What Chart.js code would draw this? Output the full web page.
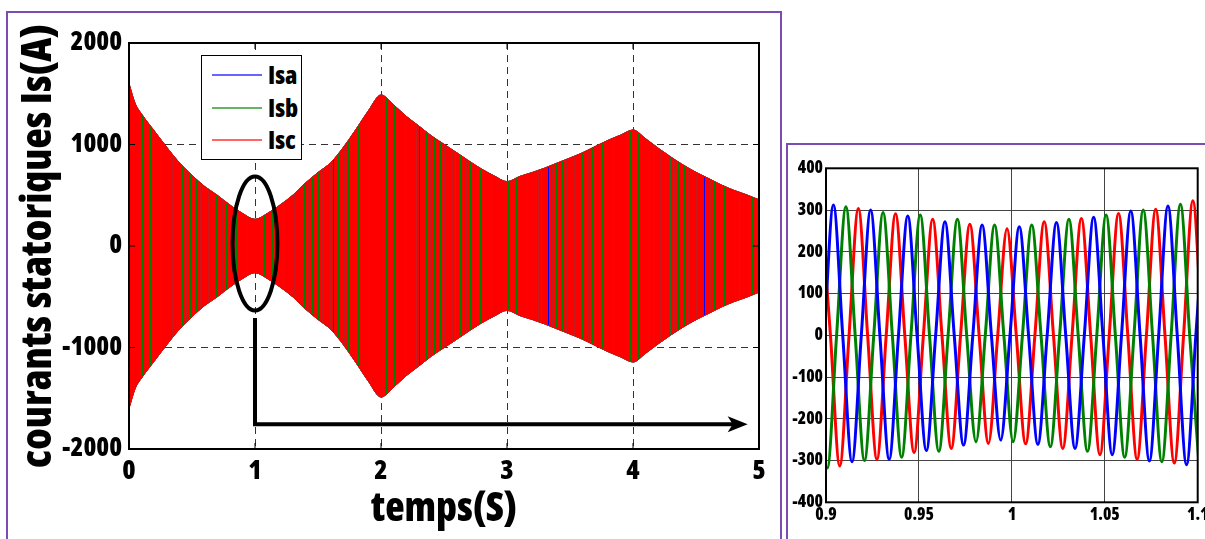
<!DOCTYPE html>
<html>
<head>
<meta charset="utf-8">
<title>Courants statoriques</title>
<script src="https://cdn.jsdelivr.net/npm/chart.js@4.4.1/dist/chart.umd.min.js"></script>
<style>
  body { margin: 0; width: 1205px; height: 539px; overflow: hidden; background: #fff; position: relative; }
  .frame { position: absolute; border: 2px solid #7a4cb4; }
  #mainFrame { left: 6px; top: 11px; width: 772px; height: 560px; }
  #zoomFrame { left: 786px; top: 143px; width: 440px; height: 420px; }
  canvas { position: absolute; }
  #mainChart { left: 9px; top: 14px; }
  #zoomChart { left: 789px; top: 146px; }
  #legend { position: absolute; left: 201px; top: 55px; width: 99px; height: 103px;
            border: 1.5px solid #000; background: #fff; }
  #legend .row { position: absolute; left: 10px; height: 30px; width: 90px; }
  #legend .swatch { position: absolute; left: 0; top: 14px; width: 50px; height: 2px; opacity: 0.6; }
  #legend .name { position: absolute; left: 56px; top: -1px; line-height: 30px; color: #000;
                  font-family: 'Open Sans', sans-serif; font-weight: 800; font-stretch: condensed; font-size: 25px; }
</style>
</head>
<body>
<div class="frame" id="mainFrame"></div>
<div class="frame" id="zoomFrame"></div>
<canvas id="mainChart" width="771" height="525"></canvas>
<canvas id="zoomChart" width="430" height="393"></canvas>
<div id="legend"></div>
<script>
const FONT = "'Open Sans', 'Roboto', sans-serif";
const HEAVY = '800 condensed';   // goes into the canvas font shorthand before the size

const seriesNames = ['Isa', 'Isb', 'Isc'];
const seriesColors = ['#0000ff', '#008000', '#ff0000'];

// envelope of the three stator currents over the whole run (s, A)
const envTime = [0, 0.05, 0.1, 0.2, 0.3, 0.4, 0.5, 0.6, 0.7, 0.8, 0.9,
  1.0, 1.1, 1.2, 1.3, 1.4, 1.5, 1.6, 1.7, 1.8, 1.9,
  2.0, 2.1, 2.2, 2.3, 2.4, 2.5, 2.6, 2.7, 2.8, 2.9,
  3.0, 3.1, 3.2, 3.3, 3.4, 3.5, 3.6, 3.7, 3.8, 3.9,
  4.0, 4.1, 4.2, 4.3, 4.4, 4.5, 4.6, 4.7, 4.8, 4.9, 5.0];
const envUpper = [1600, 1400, 1300, 1135, 972, 820, 697, 587, 501, 405, 322,
  263, 322, 405, 501, 620, 724, 820, 970, 1147, 1333,
  1488, 1391, 1278, 1183, 1085, 1002, 920, 836, 757, 690,
  634, 685, 724, 768, 818, 867, 919, 980, 1040, 1092,
  1143, 1057, 964, 877, 797, 726, 665, 602, 549, 505, 455];
const envLower = [-1600, -1400, -1300, -1135, -972, -820, -697, -587, -501, -405, -322,
  -263, -322, -405, -501, -620, -724, -820, -970, -1147, -1333,
  -1488, -1391, -1278, -1183, -1085, -1002, -920, -836, -757, -690,
  -634, -685, -724, -768, -818, -867, -919, -980, -1040, -1092,
  -1143, -1057, -964, -877, -797, -726, -665, -602, -549, -505, -455];
const mainXTicks = [0, 1, 2, 3, 4, 5];
const mainYTicks = [-2000, -1000, 0, 1000, 2000];

// zoom 0.9 .. 1.1 s : samples every quarter period (5 ms), first sample time per phase
const zoomStep = 0.005;
const zoomStart = [0.894, 0.8907, 0.8974];
const isaZoom = [-310, 0, 312, 0, -303, 0, 300, 0, -297, 0, 286, 0, -276, 0, 272, 0, -263, 0, 264, 0, -251, 0,
  260, 0, -261, 0, 270, 0, -271, 0, 283, 0, -286, 0, 298, 0, -301, 0, 310, 0, -310, 0, 316];
const isbZoom = [315, 0, -318, 0, 308, 0, -300, 0, 294, 0, -292, 0, 288, 0, -278, 0, 278, 0, -255, 0, 264, 0,
  -255, 0, 264, 0, -267, 0, 278, 0, -278, 0, 288, 0, -292, 0, 300, 0, -303, 0, 314, 0, -310];
const iscZoom = [300, 0, -313, 0, 304, 0, -297, 0, 291, 0, -281, 0, 278, 0, -271, 0, 266, 0, -259, 0, 255, 0,
  -260, 0, 272, 0, -271, 0, 280, 0, -286, 0, 292, 0, -297, 0, 302, 0, -306, 0, 322, 0, -310];
const zoomXTicks = [0.9, 0.95, 1, 1.05, 1.1];
const zoomYTicks = [-400, -300, -200, -100, 0, 100, 200, 300, 400];

// annotation: circled region around t = 1 s and the arrow to the zoom
const zoomMark = { t: 1.0, i: 25, rt: 0.178, ri: 660 };
const arrowPath = [[1.0, -710], [1.0, -1755], [4.91, -1755]];

// legend (html)
const legend = document.getElementById('legend');
seriesNames.forEach((name, i) => {
  const row = document.createElement('div');
  row.className = 'row';
  row.style.top = (4 + i * 32.5) + 'px';
  row.innerHTML = '<div class="swatch" style="background:' + seriesColors[i] + '"></div><div class="name">' + name + '</div>';
  legend.appendChild(row);
});

const mainCtx = document.getElementById('mainChart').getContext('2d');

// vertical streak textures so the dense oscillations read like the original
// one char per pixel column: c = colour, d = darker shade, . = see-through
function stripes(color, dark, cols) {
  const c = document.createElement('canvas');
  c.width = cols.length; c.height = 1;
  const g = c.getContext('2d');
  for (let x = 0; x < cols.length; x++) {
    if (cols[x] === '.') continue;
    g.fillStyle = cols[x] === 'd' ? dark : color;
    g.fillRect(x, 0, 1, 1);
  }
  return mainCtx.createPattern(c, 'repeat');
}
const bandFills = [
  seriesColors[0],
  stripes(seriesColors[1], '#2a6a2a', 'ccccccc.ccccccccdcccccc.cccccccccccc.cccccd'),
  stripes(seriesColors[2], '#c41c1c', 'cccc.cccdcc.ccccdcc.cccc.cccccdccc.ccccccdcc.cccccc.cccdccc.c')
];

const pts = (xs, ys) => xs.map((x, k) => ({ x: x, y: ys[k] }));

const mainDatasets = [];
seriesNames.forEach((name, i) => {
  mainDatasets.push({
    label: name, data: pts(envTime, envUpper), borderColor: seriesColors[i], borderWidth: 1,
    backgroundColor: bandFills[i], fill: '+1', pointRadius: 0, cubicInterpolationMode: 'monotone', order: 3 - i
  });
  mainDatasets.push({
    label: name, data: pts(envTime, envLower), borderColor: seriesColors[i], borderWidth: 1,
    fill: false, pointRadius: 0, cubicInterpolationMode: 'monotone', order: 3 - i
  });
});

const boxFrame = {
  id: 'boxFrame',
  afterDraw(chart, args, opts) {
    const { ctx, chartArea: a, scales } = chart;
    ctx.save();
    ctx.strokeStyle = '#000';
    ctx.lineWidth = opts.width || 2;
    ctx.strokeRect(a.left, a.top, a.right - a.left, a.bottom - a.top);
    const tl = opts.tick || 0;
    if (tl) {
      ctx.lineWidth = 1;
      ctx.beginPath();
      scales.x.ticks.forEach(t => {
        const px = scales.x.getPixelForValue(t.value);
        ctx.moveTo(px, a.bottom); ctx.lineTo(px, a.bottom - tl);
        ctx.moveTo(px, a.top); ctx.lineTo(px, a.top + tl);
      });
      scales.y.ticks.forEach(t => {
        const py = scales.y.getPixelForValue(t.value);
        ctx.moveTo(a.left, py); ctx.lineTo(a.left + tl, py);
        ctx.moveTo(a.right, py); ctx.lineTo(a.right - tl, py);
      });
      ctx.stroke();
    }
    ctx.restore();
  }
};

const zoomCallout = {
  id: 'zoomCallout',
  afterDatasetsDraw(chart) {
    const { ctx, scales: { x, y } } = chart;
    ctx.save();
    ctx.strokeStyle = '#000';
    ctx.fillStyle = '#000';
    ctx.lineWidth = 4;
    const cx = x.getPixelForValue(zoomMark.t), cy = y.getPixelForValue(zoomMark.i);
    const rx = x.getPixelForValue(zoomMark.t + zoomMark.rt) - cx;
    const ry = cy - y.getPixelForValue(zoomMark.i + zoomMark.ri);
    ctx.beginPath();
    ctx.ellipse(cx, cy, rx, ry, 0, 0, Math.PI * 2);
    ctx.stroke();
    const p = arrowPath.map(q => [x.getPixelForValue(q[0]), y.getPixelForValue(q[1])]);
    const tip = p[p.length - 1];
    ctx.beginPath();
    ctx.moveTo(p[0][0], p[0][1]);
    for (let k = 1; k < p.length - 1; k++) ctx.lineTo(p[k][0], p[k][1]);
    ctx.lineTo(tip[0] - 12, tip[1]);
    ctx.stroke();
    ctx.beginPath();
    ctx.moveTo(tip[0], tip[1]);
    ctx.lineTo(tip[0] - 20, tip[1] - 8);
    ctx.lineTo(tip[0] - 15, tip[1]);
    ctx.lineTo(tip[0] - 20, tip[1] + 8);
    ctx.closePath();
    ctx.fill();
    ctx.restore();
  }
};

new Chart(mainCtx, {
  type: 'line',
  data: { datasets: mainDatasets },
  plugins: [zoomCallout, boxFrame],
  options: {
    responsive: false,
    animation: false,
    devicePixelRatio: 1,
    layout: { padding: { top: 29, right: 21, left: 0, bottom: 0 } },
    plugins: { legend: { display: false }, tooltip: { enabled: false }, boxFrame: { width: 2, tick: 6 } },
    scales: {
      x: {
        type: 'linear', min: 0, max: 5,
        afterBuildTicks: s => { s.ticks = mainXTicks.map(v => ({ value: v })); },
        afterFit: s => { s.height = 90; },
        grid: { color: '#333', lineWidth: 1, drawTicks: false },
        border: { display: false, dash: [7, 5] },
        ticks: { color: '#000', padding: 6, maxRotation: 0, callback: v => String(v),
                 font: { family: FONT, size: 27, weight: HEAVY } },
        title: { display: true, text: 'temps(S)', color: '#000', padding: { top: 0, bottom: 5 },
                 font: { family: FONT, size: 40, weight: HEAVY } }
      },
      y: {
        type: 'linear', min: -2000, max: 2000,
        afterBuildTicks: s => { s.ticks = mainYTicks.map(v => ({ value: v })); },
        afterFit: s => { s.width = 120; },
        grid: { color: '#333', lineWidth: 1, drawTicks: false },
        border: { display: false, dash: [7, 5] },
        ticks: { color: '#000', padding: 7, callback: v => String(v),
                 font: { family: FONT, size: 26, weight: HEAVY } },
        title: { display: true, text: 'courants statoriques Is(A)', color: '#000', padding: { top: 5, bottom: 0 },
                 font: { family: FONT, size: 42, weight: HEAVY } }
      }
    }
  }
});

const zoomSeries = [isaZoom, isbZoom, iscZoom];
new Chart(document.getElementById('zoomChart'), {
  type: 'line',
  data: {
    datasets: zoomSeries.map((vals, i) => ({
      label: seriesNames[i],
      data: vals.map((v, k) => ({ x: zoomStart[i] + k * zoomStep, y: v })),
      borderColor: seriesColors[i], borderWidth: 3, pointRadius: 0,
      cubicInterpolationMode: 'monotone', fill: false
    }))
  },
  plugins: [boxFrame],
  options: {
    responsive: false,
    animation: false,
    devicePixelRatio: 1,
    layout: { padding: { top: 22.3, right: 21.3, left: 0, bottom: 0 } },
    plugins: { legend: { display: false }, tooltip: { enabled: false }, boxFrame: { width: 2, tick: 0 } },
    scales: {
      x: {
        type: 'linear', min: 0.9, max: 1.1,
        afterBuildTicks: s => { s.ticks = zoomXTicks.map(v => ({ value: v })); },
        afterFit: s => { s.height = 36.7; },
        grid: { color: '#444', lineWidth: 1, drawTicks: false },
        border: { display: false },
        ticks: { color: '#000', padding: 3, maxRotation: 0, callback: v => String(v),
                 font: { family: FONT, size: 17, weight: HEAVY } }
      },
      y: {
        type: 'linear', min: -400, max: 400,
        afterBuildTicks: s => { s.ticks = zoomYTicks.map(v => ({ value: v })); },
        afterFit: s => { s.width = 37; },
        grid: { color: '#444', lineWidth: 1, drawTicks: false },
        border: { display: false },
        ticks: { color: '#000', padding: 3, callback: v => String(v),
                 font: { family: FONT, size: 17, weight: HEAVY } }
      }
    }
  }
});
</script>
</body>
</html>
